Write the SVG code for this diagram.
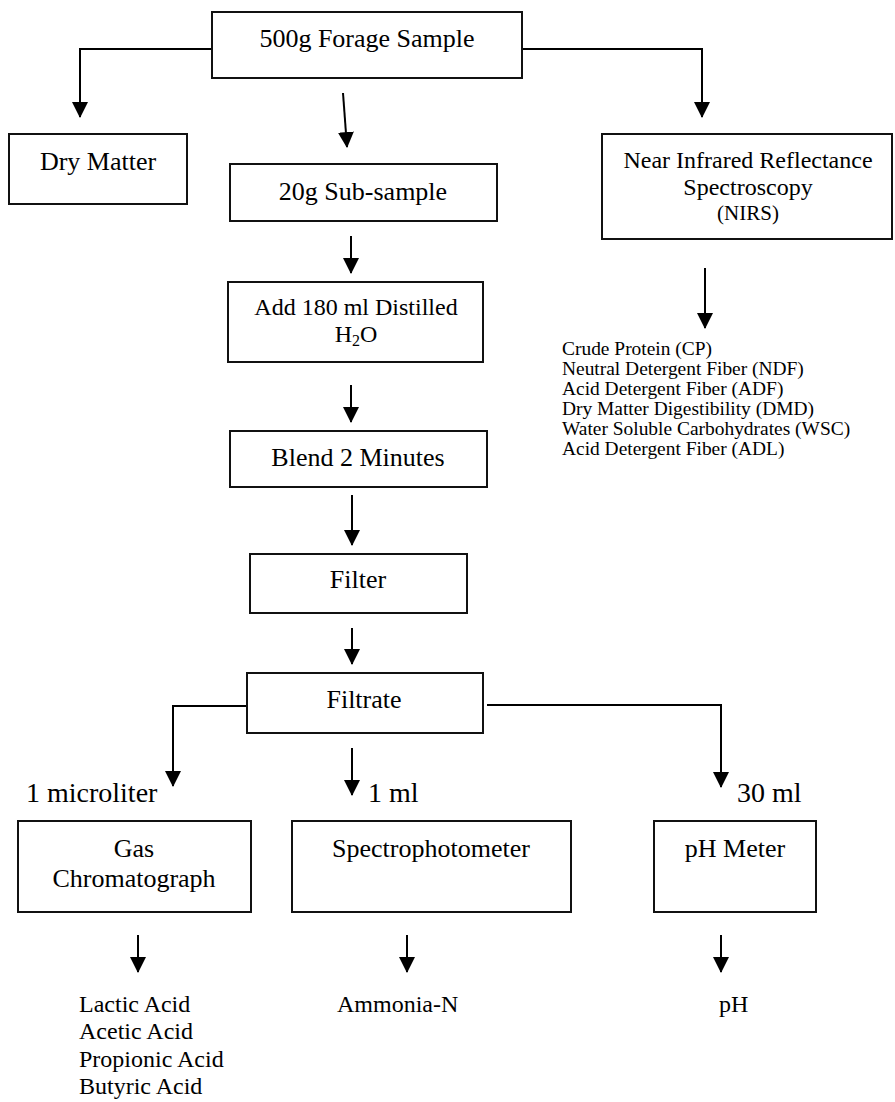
<svg xmlns="http://www.w3.org/2000/svg" width="895" height="1102" viewBox="0 0 895 1102">
<defs>
<marker id="ah" markerUnits="userSpaceOnUse" markerWidth="16" markerHeight="16" viewBox="0 0 16 16" refX="15" refY="8" orient="auto">
<path d="M0,0 L16,8 L0,16 z" fill="#000"/>
</marker>
<style>
.box{fill:#fff;stroke:#111;stroke-width:2}
.t{font-family:"Liberation Serif","Times New Roman",serif;fill:#000}
.c{text-anchor:middle}
.b26{font-size:26px}
.b24{font-size:24px}
.b28{font-size:28px}
.b18{font-size:18px}
.b21{font-size:21px}
.conn path{fill:none;stroke:#000;stroke-width:2;marker-end:url(#ah)}
</style>
</defs>
<rect width="895" height="1102" fill="#fff"/>
<g id="connectors" class="conn">
<path d="M212,49 H80 V117"/>
<path d="M522,49 H702 V117"/>
<path d="M343,93 L347,147"/>
<path d="M351,236 V273"/>
<path d="M351,385 V422"/>
<path d="M352,495 V545"/>
<path d="M352,628 V664"/>
<path d="M247,706 H173 V786"/>
<path d="M352,748 V795"/>
<path d="M487,705 H721 V787"/>
<path d="M705,268 V328"/>
<path d="M138,935 V972"/>
<path d="M407,935 V972"/>
<path d="M721,935 V972"/>
</g>
<g id="forage">
<rect class="box" x="212" y="12" width="310" height="66"/>
<text class="t c b26" x="367" y="47">500g Forage Sample</text>
</g>
<g id="drymatter">
<rect class="box" x="9" y="134" width="178" height="70"/>
<text class="t c b26" x="98" y="170">Dry Matter</text>
</g>
<g id="subsample">
<rect class="box" x="230" y="164" width="267" height="57"/>
<text class="t c b26" x="363" y="200">20g Sub-sample</text>
</g>
<g id="nirs">
<rect class="box" x="602" y="134" width="290" height="105"/>
<text class="t c b24" x="748" y="168">Near Infrared Reflectance</text>
<text class="t c b24" x="748" y="195">Spectroscopy</text>
<text class="t c b21" x="748" y="220">(NIRS)</text>
</g>
<g id="nirs-results" transform="translate(562,0) scale(1.08,1)">
<text class="t b18" x="0" y="355">Crude Protein (CP)</text>
<text class="t b18" x="0" y="375">Neutral Detergent Fiber (NDF)</text>
<text class="t b18" x="0" y="395">Acid Detergent Fiber (ADF)</text>
<text class="t b18" x="0" y="415">Dry Matter Digestibility (DMD)</text>
<text class="t b18" x="0" y="435">Water Soluble Carbohydrates (WSC)</text>
<text class="t b18" x="0" y="455">Acid Detergent Fiber (ADL)</text>
</g>
<g id="addwater">
<rect class="box" x="228" y="282" width="255" height="80"/>
<text class="t c b24" x="356" y="315">Add 180 ml Distilled</text>
<text class="t c b24" x="356" y="342">H<tspan font-size="16" dy="4">2</tspan><tspan dy="-4">O</tspan></text>
</g>
<g id="blend">
<rect class="box" x="230" y="431" width="257" height="56"/>
<text class="t c b26" x="358" y="466">Blend 2 Minutes</text>
</g>
<g id="filter">
<rect class="box" x="250" y="554" width="217" height="59"/>
<text class="t c b26" x="358" y="588">Filter</text>
</g>
<g id="filtrate">
<rect class="box" x="247" y="673" width="236" height="60"/>
<text class="t c b26" x="364" y="708">Filtrate</text>
</g>
<g id="volumes">
<text class="t b28" x="26" y="802">1 microliter</text>
<text class="t b28" x="368" y="802">1 ml</text>
<text class="t b28" x="737" y="802">30 ml</text>
</g>
<g id="gc">
<rect class="box" x="18" y="821" width="233" height="91"/>
<text class="t c b26" x="134" y="857">Gas</text>
<text class="t c b26" x="134" y="887">Chromatograph</text>
</g>
<g id="spectro">
<rect class="box" x="292" y="821" width="279" height="91"/>
<text class="t c b26" x="431" y="857">Spectrophotometer</text>
</g>
<g id="phmeter">
<rect class="box" x="654" y="821" width="162" height="91"/>
<text class="t c b26" x="735" y="857">pH Meter</text>
</g>
<g id="gc-results">
<text class="t b24" x="79" y="1012">Lactic Acid</text>
<text class="t b24" x="79" y="1039">Acetic Acid</text>
<text class="t b24" x="79" y="1067">Propionic Acid</text>
<text class="t b24" x="79" y="1094">Butyric Acid</text>
</g>
<g id="ammonia">
<text class="t b24" x="337" y="1012">Ammonia-N</text>
</g>
<g id="ph-result">
<text class="t b24" x="719" y="1012">pH</text>
</g>
</svg>
